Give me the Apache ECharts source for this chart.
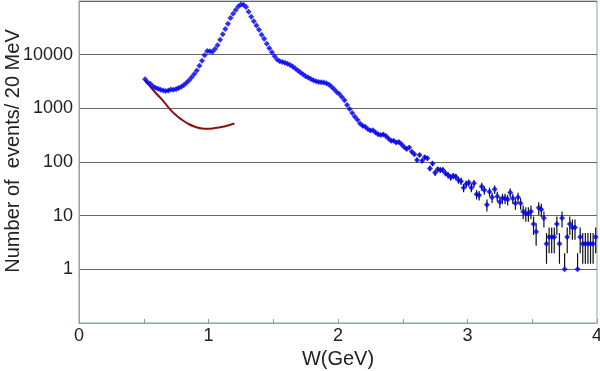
<!DOCTYPE html>
<html>
<head>
<meta charset="utf-8">
<script src="https://cdn.jsdelivr.net/npm/echarts@6/dist/echarts.min.js"></script>
<style>
  html, body { margin: 0; padding: 0; background: #fff; }
  #chart { width: 600px; height: 371px; }
</style>
</head>
<body>
<div id="chart"></div>
<script>
// events per 20 MeV bin, first bin centre 0.51 GeV
var binStart = 0.51;
var binWidth = 0.02;
var counts = [
  3490, 3070, 2870, 2590, 2420, 2320, 2230, 2150, 2100, 2150,
  2250, 2220, 2300, 2400, 2520, 2720, 3000, 3350, 3800, 4350,
  5050, 6200, 7700, 9800, 11700, 11600, 11300, 12800, 15000, 19000,
  24000, 30000, 37500, 48000, 58000, 68000, 79000, 86000, 85000, 77000,
  63000, 51000, 42000, 35000, 29000, 23500, 19800, 16000, 13200, 11100,
  9300, 8100, 7500, 7300, 7050, 6750, 6400, 6000, 5550, 5050,
  4650, 4330, 3950, 3770, 3530, 3330, 3200, 3100, 3070, 3030,
  2920, 2780, 2520, 2270, 2020, 1850, 1620, 1420, 1150, 970,
  820, 700, 610, 520, 475, 455, 410, 385, 390, 355,
  330, 320, 325, 305, 275, 250, 250, 230, 235, 215,
  190, 175, 186, 155, 140, 109, 135, 105, 122, 117,
  76, 94, 63, 73, 71, 71, 62, 57, 52, 55,
  53, 46, 44, 33, 39, 41, 33, 40, 25, 24,
  35, 30, 16, 28, 22, 31, 23, 18, 21, 21,
  20, 27, 21, 17, 22, 17, 12, 11, 11, 12,
  7, 5, 14, 13, 9, 3, 4, 4, 4, 7,
  3, 9, 1, 4, 7, 6, 6, 1, 4, 3,
  3, 3, 3, 3, 4
];

// background curve (red)
var bgW = [0.51, 0.55, 0.6, 0.65, 0.7, 0.75, 0.8, 0.85, 0.9, 0.95, 1.0, 1.05, 1.1, 1.15, 1.2];
var bgN = [3400, 2550, 1850, 1380, 980, 740, 600, 505, 450, 420, 415, 430, 450, 480, 520];

var xTicks = [0, 1, 2, 3, 4];
var yLabels = [1, 10, 100, 1000, 10000];

var points = counts.map(function (n, i) {
  return [+(binStart + i * binWidth).toFixed(2), n];
});
var bars = points.map(function (p) {
  var e = Math.sqrt(p[1]);
  var lo = p[1] - e > 0 ? p[1] - e : p[1];
  return [p[0], p[1], lo, p[1] + e];
});
var bgLine = bgW.map(function (w, i) { return [w, bgN[i]]; });

var font = 'Liberation Sans, Arial, sans-serif';
var chart = echarts.init(document.getElementById('chart'));
chart.setOption({
  animation: false,
  grid: {
    left: 79, right: 3, top: 1, bottom: 48,
    outerBoundsMode: 'none',
    show: true, borderColor: '#8ea4ac', borderWidth: 1
  },
  graphic: [{
    type: 'text',
    x: 13, y: 151,
    rotation: Math.PI / 2,
    style: {
      text: 'Number of  events/ 20 MeV',
      font: '20px ' + font,
      fill: '#222',
      align: 'center',
      verticalAlign: 'middle'
    }
  }],
  xAxis: {
    type: 'value', min: 0, max: 4, interval: 1,
    name: 'W(GeV)', nameLocation: 'middle', nameGap: 22,
    nameTextStyle: { fontFamily: font, fontSize: 20, color: '#222', verticalAlign: 'top' },
    axisLine: { lineStyle: { color: '#8ea4ac' } },
    axisTick: { inside: true, length: 4, lineStyle: { color: '#999' } },
    minorTick: { show: true, splitNumber: 2, length: 4, lineStyle: { color: '#999' } },
    splitLine: { show: false },
    axisLabel: {
      fontFamily: font, fontSize: 18, color: '#222', margin: 4,
      formatter: function (v) { return xTicks.indexOf(v) >= 0 ? String(v) : ''; }
    }
  },
  yAxis: {
    type: 'log', min: 0.1, max: 100000, logBase: 10,
    axisLine: { show: true, lineStyle: { color: '#8ea4ac' } },
    axisTick: { show: false },
    splitLine: {
      show: true,
      lineStyle: { color: '#666', width: 1 }
    },
    axisLabel: {
      fontFamily: font, fontSize: 18, color: '#222', margin: 6,
      formatter: function (v) { return yLabels.indexOf(v) >= 0 ? String(v) : ''; }
    }
  },
  series: [
    {
      type: 'line',
      data: bgLine,
      smooth: true,
      showSymbol: false,
      lineStyle: { color: '#8b1010', width: 2 },
      z: 2
    },
    {
      type: 'custom',
      data: bars,
      renderItem: function (params, api) {
        var x = api.value(0);
        var top = api.coord([x, api.value(3)]);
        var bot = api.coord([x, api.value(2)]);
        return {
          type: 'line',
          shape: { x1: top[0], y1: top[1], x2: bot[0], y2: bot[1] },
          style: { stroke: '#111', lineWidth: 1.2 }
        };
      },
      encode: { x: 0, y: 1 },
      z: 3
    },
    {
      type: 'scatter',
      data: points,
      symbol: 'diamond',
      symbolSize: 6,
      itemStyle: { color: '#0000f5' },
      z: 4
    }
  ]
});
</script>
</body>
</html>
